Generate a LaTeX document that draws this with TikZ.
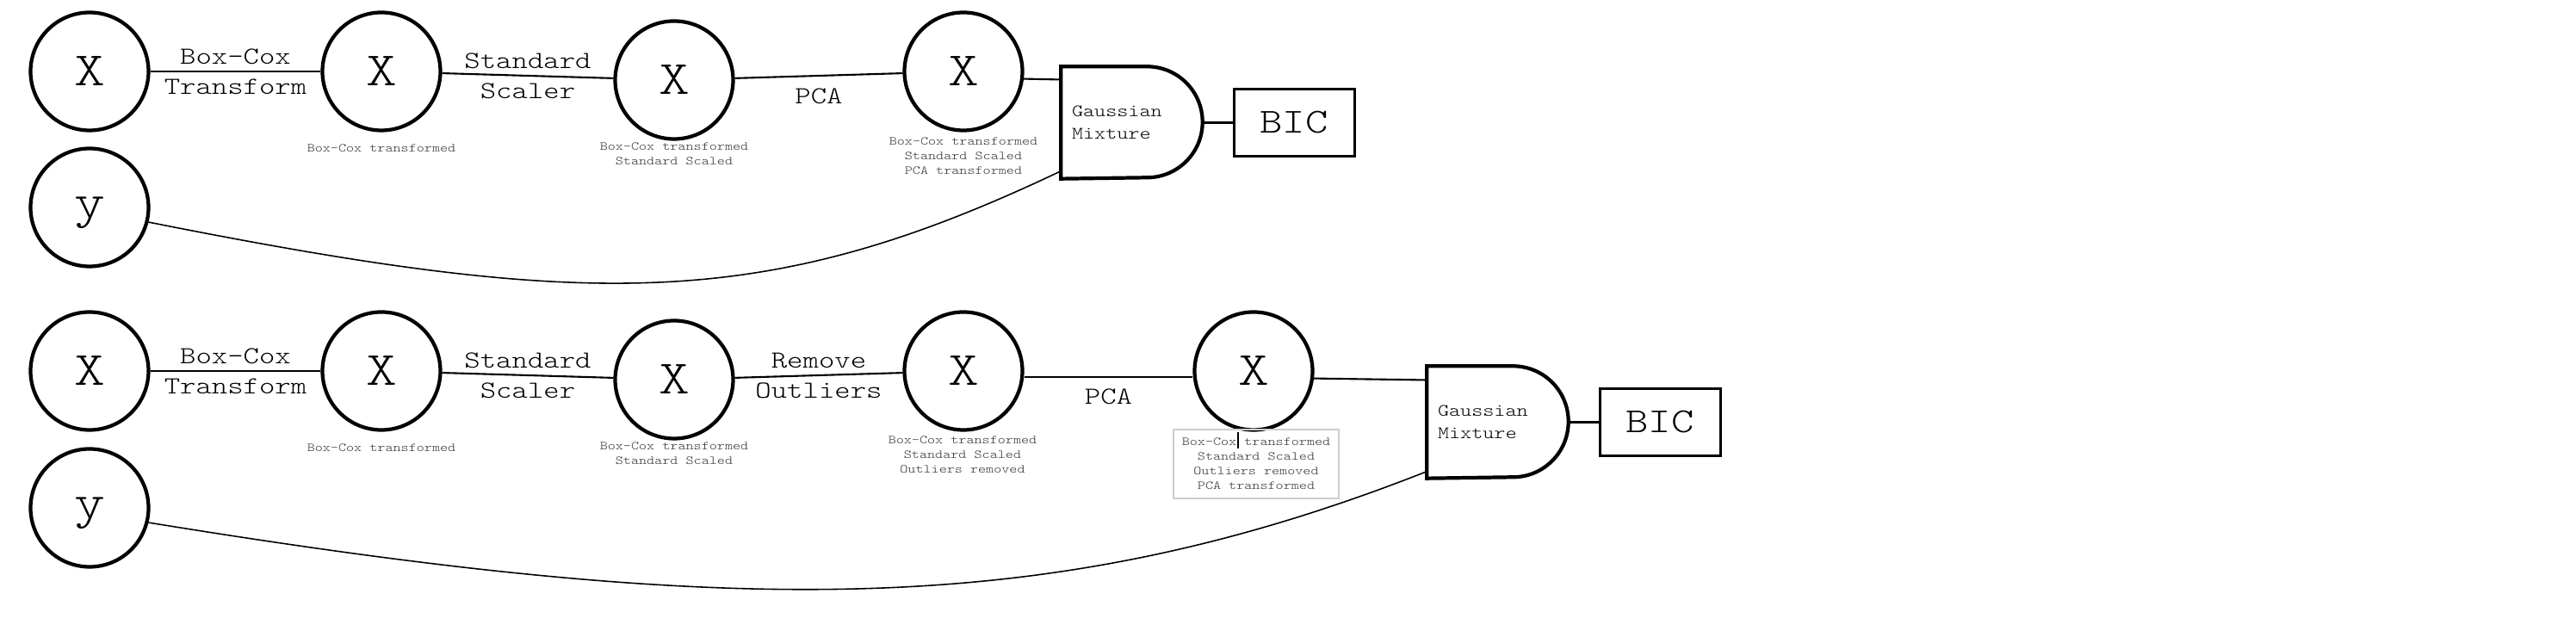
\documentclass[tikz,border=0pt]{standalone}
\usepackage{fontspec}
\setmonofont{lmmonolt10-regular.otf}[FakeStretch=1.23]
\usetikzlibrary{positioning}

\begin{document}
\begin{tikzpicture}[
    var/.style={draw,circle,line width=1.2pt,minimum size=1.37cm,inner sep=0pt,
      font=\ttfamily\fontsize{15.8}{18}\selectfont},
    elbl/.style={align=center,inner sep=0pt,font=\ttfamily\fontsize{8.1}{9.96}\selectfont},
    note/.style={align=center,inner sep=0pt,text=black!80,
      font=\ttfamily\fontsize{4}{4.84}\selectfont},
    gmbox/.style={minimum width=1.63cm,minimum height=1.29cm,inner sep=0.12cm,
      text width=1.39cm,align=left,font=\ttfamily\fontsize{5.77}{7.4}\selectfont},
    bicbox/.style={draw,line width=0.8pt,minimum width=1.4cm,minimum height=0.78cm,
      inner sep=0pt,font=\ttfamily\fontsize{11.6}{13}\selectfont},
    link/.style={line width=0.6pt},
    feed/.style={line width=0.45pt}]
  \useasboundingbox (0,0) rectangle (29.92,7.40);

  % without outlier removal
  \node[var] (x1) at (1.04,6.57) {X};
  \node[var] (x2) at (4.43,6.57) {X};
  \node[var] (x3) at (7.83,6.47) {X};
  \node[var] (x4) at (11.19,6.57) {X};
  \node[var,text depth=0pt] (y1) at (1.04,4.99) {y};
  \node[gmbox] (gm1) at (13.145,5.975) {Gaussian\\Mixture};
  \node[bicbox,right=0.35cm of gm1] (bic1) {BIC};
  \draw[line width=1.2pt]
    (gm1.north west) -- ([xshift=-0.645cm]gm1.north east)
    arc[start angle=90,end angle=-90,radius=0.645cm] -- (gm1.south west) -- cycle;

  \node[note] (n2) at (4.43,5.68) {Box-Cox transformed};
  \node[note] (n3) at (7.83,5.61) {Box-Cox transformed\\Standard Scaled};
  \node[note] (n4) at (11.19,5.59) {Box-Cox transformed\\Standard Scaled\\PCA transformed};

  \draw[link] (x1) -- node[elbl] {Box-Cox\\Transform} (x2);
  \draw[link] (x2) -- node[elbl] {Standard\\Scaler} (x3);
  \draw[link] (x3) -- node[elbl,yshift=-0.24cm] {PCA} (x4);
  \draw[link] (x4.-7) -- ([yshift=0.5cm]gm1.west);
  \draw[link] (gm1.east) -- (bic1.west);
  \draw[feed] (y1.-14) .. controls (6.9,3.79) and (8.91,3.79) .. ([yshift=0.09cm]gm1.south west);

  % with outlier removal
  \node[var] (xa) at (1.04,3.09) {X};
  \node[var] (xb) at (4.43,3.09) {X};
  \node[var] (xc) at (7.83,2.99) {X};
  \node[var] (xd) at (11.19,3.09) {X};
  \node[var] (xe) at (14.56,3.09) {X};
  \node[var,text depth=0pt] (y2) at (1.04,1.50) {y};
  \node[gmbox] (gm2) at (17.395,2.495) {Gaussian\\Mixture};
  \node[bicbox,right=0.35cm of gm2] (bic2) {BIC};
  \draw[line width=1.2pt]
    (gm2.north west) -- ([xshift=-0.645cm]gm2.north east)
    arc[start angle=90,end angle=-90,radius=0.645cm] -- (gm2.south west) -- cycle;

  \node[note] (mb) at (4.43,2.20) {Box-Cox transformed};
  \node[note] (mc) at (7.83,2.13) {Box-Cox transformed\\Standard Scaled};
  \node[note] (md) at (11.18,2.12) {Box-Cox transformed\\Standard Scaled\\Outliers removed};
  \node[note,draw=gray!40,line width=0.5pt,minimum width=1.92cm,minimum height=0.8cm]
    (me) at (14.59,2.01) {Box-Cox transformed\\Standard Scaled\\Outliers removed\\PCA transformed};
  \draw[line width=0.3pt] (14.38,2.19) -- (14.38,2.38);

  \draw[link] (xa) -- node[elbl] {Box-Cox\\Transform} (xb);
  \draw[link] (xb) -- node[elbl] {Standard\\Scaler} (xc);
  \draw[link] (xc) -- node[elbl] {Remove\\Outliers} (xd);
  \draw[link] ([yshift=-0.07cm]xd.east) -- node[elbl,yshift=-0.23cm] {PCA} ([yshift=-0.07cm]xe.west);
  \draw[link] (xe.-7) -- ([yshift=0.49cm]gm2.west);
  \draw[link] (gm2.east) -- (bic2.west);
  \draw[feed] (y2.-14) .. controls (8.61,0.21) and (12.22,0.21) .. ([yshift=0.08cm]gm2.south west);
\end{tikzpicture}
\end{document}
